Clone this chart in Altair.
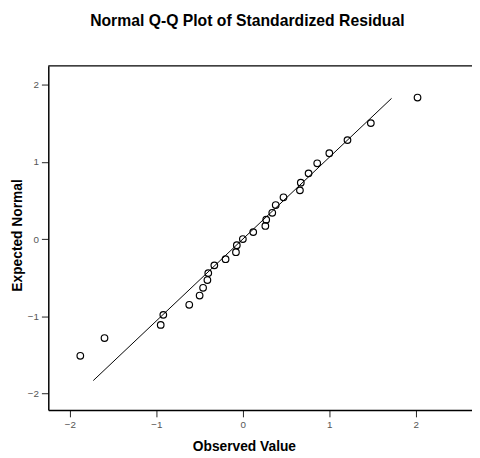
import altair as alt
import pandas as pd

# Observed standardized residuals (x) and expected normal values (y)
observed = [-1.88, -1.60, -0.95, -0.92, -0.62, -0.50, -0.46, -0.41, -0.40, -0.33,
            -0.20, -0.08, -0.07, 0.00, 0.12, 0.26, 0.27, 0.34, 0.38, 0.47,
            0.66, 0.67, 0.76, 0.86, 1.00, 1.21, 1.48, 2.02]
expected = [-1.51, -1.28, -1.11, -0.98, -0.85, -0.73, -0.63, -0.53, -0.44, -0.34,
            -0.26, -0.17, -0.08, 0.00, 0.09, 0.17, 0.25, 0.34, 0.44, 0.54,
            0.63, 0.73, 0.85, 0.98, 1.11, 1.28, 1.50, 1.83]

# Reference line end points
line_x = [-1.73, 1.72]
line_y = [-1.83, 1.82]

tick_values = [-2, -1, 0, 1, 2]

pts = pd.DataFrame({"obs": observed, "exp": expected})
ref = pd.DataFrame({"obs": line_x, "exp": line_y})

W = 431
H = 350
xscale = alt.Scale(domain=[-2.25, 2.65], nice=False, zero=False)
yscale = alt.Scale(domain=[-2.21, 2.24], nice=False, zero=False)

xaxis = alt.Axis(values=tick_values, format="d", title="Observed Value", grid=False,
                 domain=True, domainColor="black", domainWidth=1.5,
                 tickSize=7, tickColor="#222", labelColor="#555", labelFontSize=10,
                 labelFont="Liberation Sans", labelPadding=3,
                 titleFont="Liberation Sans", titleFontWeight="bold", titleFontSize=14,
                 titleColor="#000", titleX=199, titleY=37, titleBaseline="middle")
yaxis = alt.Axis(values=tick_values, format="d", title="Expected Normal", grid=False,
                 domain=True, domainColor="black", domainWidth=1.5,
                 tickSize=7, tickColor="#222", labelColor="#555", labelFontSize=10,
                 labelFont="Liberation Sans", labelPadding=3,
                 titleFont="Liberation Sans", titleFontWeight="bold", titleFontSize=14,
                 titleColor="#000", titleX=-31, titleY=172, titleBaseline="middle")

line = alt.Chart(ref).mark_line(color="black", strokeWidth=1).encode(
    x=alt.X("obs:Q", scale=xscale, axis=xaxis),
    y=alt.Y("exp:Q", scale=yscale, axis=yaxis),
)

points = alt.Chart(pts).mark_point(shape="circle", filled=False, color="black",
                                   size=45, strokeWidth=1.2, opacity=1).encode(
    x=alt.X("obs:Q", scale=xscale),
    y=alt.Y("exp:Q", scale=yscale),
)

top_border = alt.Chart(pd.DataFrame({"k": [0]})).mark_rule(
    color="black", strokeWidth=1.5).encode(
    x=alt.value(0), x2=alt.value(W), y=alt.value(0))

chart = alt.layer(line, points, top_border).properties(
    width=W,
    height=H,
    padding={"left": 41, "top": 55, "right": 0, "bottom": 45},
    autosize=alt.AutoSizeParams(type="none"),
    title=alt.TitleParams("Normal Q-Q Plot of Standardized Residual",
                          font="Liberation Sans", fontSize=16, fontWeight="bold",
                          color="#000", anchor="middle", dx=-13, offset=37),
).configure_view(stroke=None)

chart.save("out.html", embed_options={"renderer": "svg", "actions": False})
